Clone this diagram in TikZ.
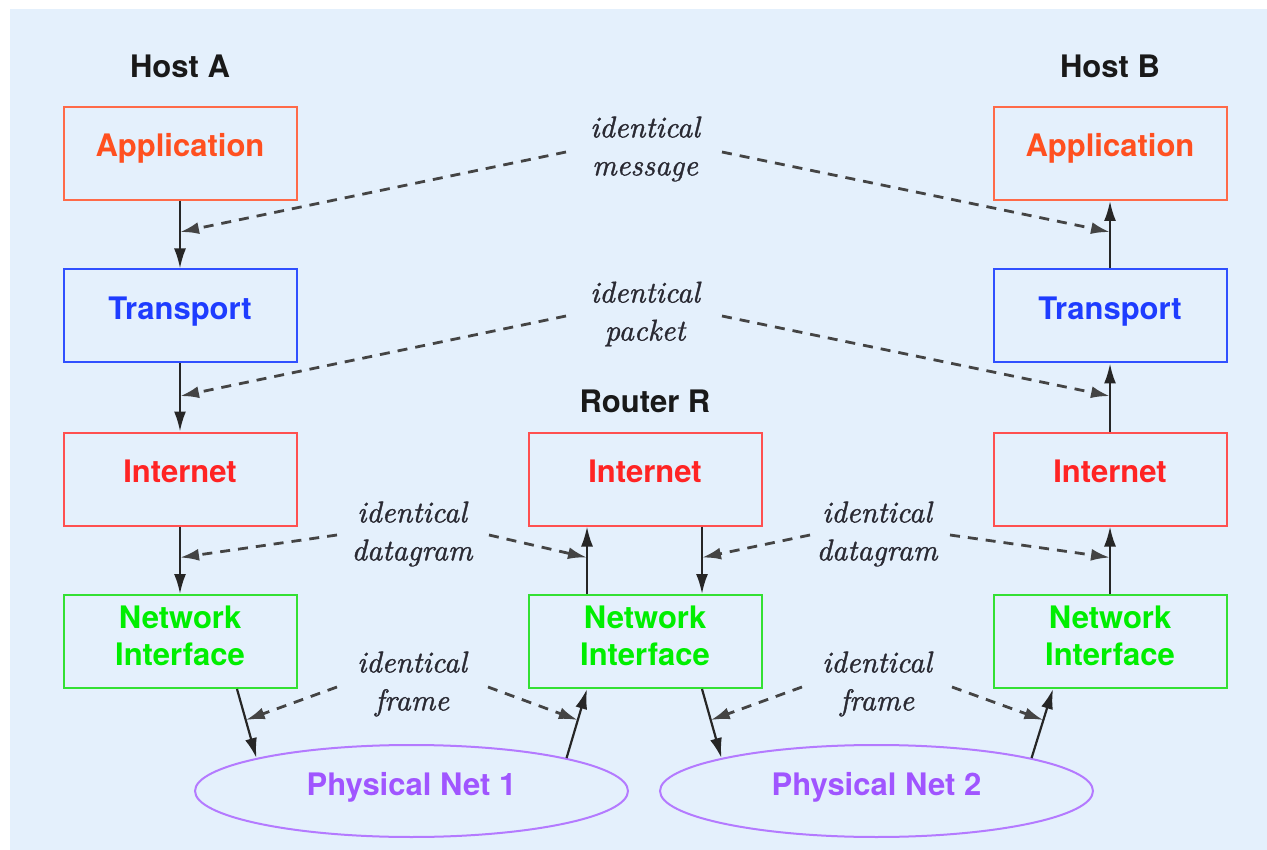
\documentclass[tikz,border=0pt]{standalone}
\usepackage{fontspec}
\setsansfont{TeX Gyre Heros}
\newfontfamily\lblfont{lmroman10-italic.otf}[FakeBold=1.2]
\usetikzlibrary{shapes.geometric,arrows.meta,calc}
\definecolor{bg}{HTML}{E4F0FC}
\definecolor{appd}{HTML}{FF6A48}
\definecolor{appt}{HTML}{FF5020}
\definecolor{trd}{HTML}{3050FF}
\definecolor{trt}{HTML}{1E3CFF}
\definecolor{ind}{HTML}{FF5050}
\definecolor{intt}{HTML}{FF2424}
\definecolor{nid}{HTML}{33E033}
\definecolor{nit}{HTML}{00EE00}
\definecolor{netd}{HTML}{B47AFF}
\definecolor{nett}{HTML}{A055FF}
\definecolor{dashc}{HTML}{444444}
\definecolor{lblc}{HTML}{2A2A33}
\begin{document}
\begin{tikzpicture}[x=1pt,y=-1pt,
  bigsans/.style={font=\sffamily\bfseries\fontsize{31}{37}\selectfont},
  layer/.style={bigsans, draw, line width=2pt, minimum width=233pt, minimum height=93pt, inner sep=0pt, align=center},
  onel/.style={text height=23pt, text depth=16pt},
  app/.style={layer, onel, draw=appd, text=appt},
  trn/.style={layer, onel, draw=trd, text=trt},
  inet/.style={layer, onel, draw=ind, text=intt},
  nif/.style={layer, draw=nid, text=nit},
  net/.style={ellipse, bigsans, draw=netd, text=nett, line width=2pt, minimum width=433pt, minimum height=92pt, inner sep=0pt, text height=23pt, text depth=14pt},
  title/.style={bigsans, text=black!90},
  lbl/.style={font=\lblfont\fontsize{30}{38}\selectfont, align=center, text=lblc, inner sep=0pt},
  flow/.style={draw=black!85, line width=2.2pt, -{Latex[length=20pt,width=12pt]}},
  same/.style={draw=dashc, line width=2.8pt, dash pattern=on 10pt off 8pt, -{Latex[length=19pt,width=12pt]}}
]
\useasboundingbox (0,0) rectangle (1267,850);
\fill[bg] (10,9) rectangle (1267,850);

% titles
\node[title] (hA) at (180,66) {Host A};
\node[title] (hB) at (1110,66) {Host B};
\node[title] (rR) at (645,401) {Router R};

% Host A
\node[app] (appA) at (180,153.5) {Application};
\node[trn] (trA) at (180,316) {Transport};
\node[inet] (inA) at (180,479) {Internet};
\node[nif] (niA) at (180,641.5) {Network\\Interface\rule[-12pt]{0pt}{12pt}};
% Router
\node[inet] (inR) at (645,479) {Internet};
\node[nif] (niR) at (645,641.5) {Network\\Interface\rule[-12pt]{0pt}{12pt}};
% Host B
\node[app] (appB) at (1110,153.5) {Application};
\node[trn] (trB) at (1110,316) {Transport};
\node[inet] (inB) at (1110,479) {Internet};
\node[nif] (niB) at (1110,641.5) {Network\\Interface\rule[-12pt]{0pt}{12pt}};
% nets
\node[net] (pn1) at (411.5,791) {Physical Net 1};
\node[net] (pn2) at (876.5,791) {Physical Net 2};

% labels
\node[lbl] (msg) at (645,149) {identical\\message};
\node[lbl] (pkt) at (645,314) {identical\\packet};
\node[lbl] (dg1) at (412,534) {identical\\datagram};
\node[lbl] (dg2) at (877,534) {identical\\datagram};
\node[lbl] (fr1) at (412,684) {identical\\frame};
\node[lbl] (fr2) at (877,684) {identical\\frame};

% solid flows
\draw[flow] (appA) -- (trA);
\draw[flow] (trA) -- (inA);
\draw[flow] (inA) -- (niA);
\coordinate (aN) at ([xshift=57pt]niA.south);
\draw[flow] (aN) -- (pn1.168);
\coordinate (rNl) at ([xshift=-58pt]niR.south);
\draw[flow] (pn1.12) -- (rNl);
\coordinate (rUb) at ([xshift=-58pt]niR.north);
\coordinate (rUt) at ([xshift=-58pt]inR.south);
\draw[flow] (rUb) -- (rUt);
\coordinate (rDt) at ([xshift=57pt]inR.south);
\coordinate (rDb) at ([xshift=57pt]niR.north);
\draw[flow] (rDt) -- (rDb);
\coordinate (rNr) at ([xshift=57pt]niR.south);
\draw[flow] (rNr) -- (pn2.168);
\coordinate (bN) at ([xshift=-57pt]niB.south);
\draw[flow] (pn2.12) -- (bN);
\draw[flow] (niB) -- (inB);
\draw[flow] (inB) -- (trB);
\draw[flow] (trB) -- (appB);

% junction points
\coordinate (jA1) at ($(appA.south)!0.46!(trA.north)$);
\coordinate (jA2) at ($(trA.south)!0.48!(inA.north)$);
\coordinate (jA3) at ($(inA.south)!0.46!(niA.north)$);
\coordinate (jA4) at ($(aN)!0.45!(pn1.168)$);
\coordinate (jR1) at ($(rUt)!0.46!(rUb)$);
\coordinate (jR2) at ($(pn1.12)!0.55!(rNl)$);
\coordinate (jR3) at ($(rDt)!0.46!(rDb)$);
\coordinate (jR4) at ($(rNr)!0.45!(pn2.168)$);
\coordinate (jB1) at ($(appB.south)!0.46!(trB.north)$);
\coordinate (jB2) at ($(trB.south)!0.48!(inB.north)$);
\coordinate (jB3) at ($(inB.south)!0.46!(niB.north)$);
\coordinate (jB4) at ($(pn2.12)!0.55!(bN)$);

% dashed tails
\coordinate (tm1) at (566,152);
\coordinate (tm2) at (722,152);
\coordinate (tp1) at (566,316);
\coordinate (tp2) at (722,316);
\coordinate (td1) at (337,535);
\coordinate (td2) at (489,535);
\coordinate (td3) at (810,535);
\coordinate (td4) at (950,535);
\coordinate (tf1) at (337,687);
\coordinate (tf2) at (488,687);
\coordinate (tf3) at (802,687);
\coordinate (tf4) at (952,687);

\draw[same] (tm1) -- (jA1);
\draw[same] (tm2) -- (jB1);
\draw[same] (tp1) -- (jA2);
\draw[same] (tp2) -- (jB2);
\draw[same] (td1) -- (jA3);
\draw[same] (td2) -- (jR1);
\draw[same] (td3) -- (jR3);
\draw[same] (td4) -- (jB3);
\draw[same] (tf1) -- (jA4);
\draw[same] (tf2) -- (jR2);
\draw[same] (tf3) -- (jR4);
\draw[same] (tf4) -- (jB4);
\end{tikzpicture}
\end{document}
